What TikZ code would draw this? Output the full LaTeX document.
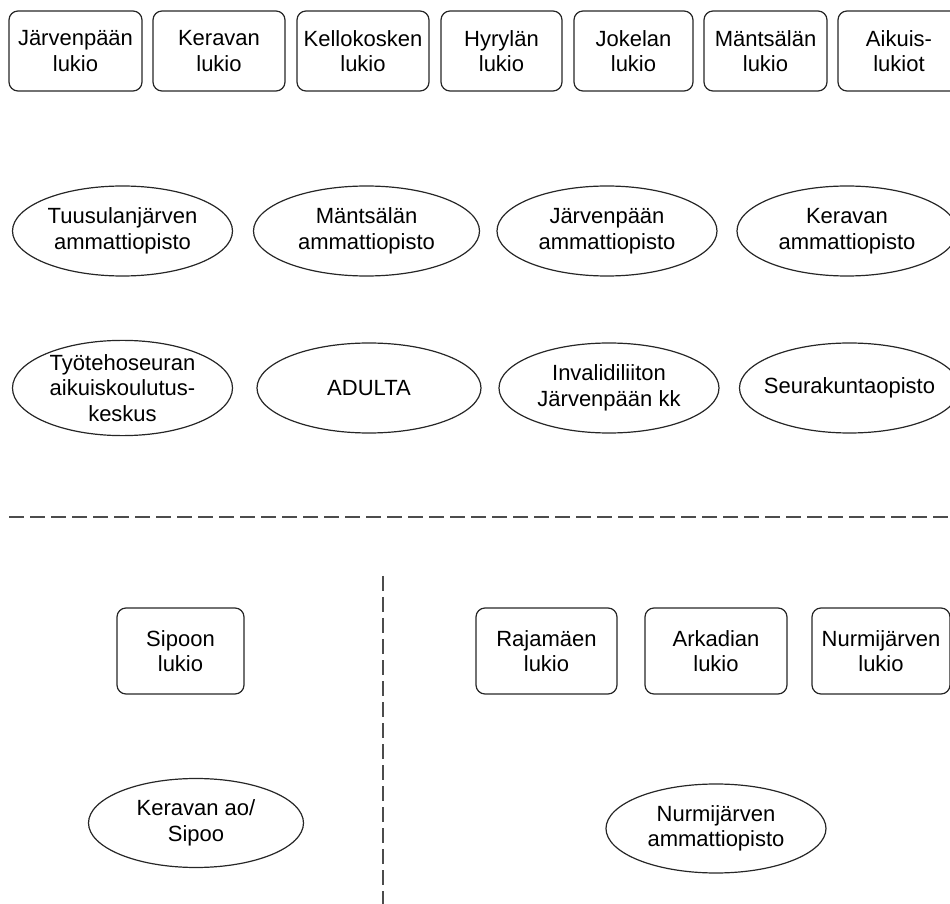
\documentclass[tikz,border=0pt]{standalone}
\usepackage{fontspec}
\setmainfont{Liberation Sans}
\usetikzlibrary{positioning,shapes.geometric}

\begin{document}
\begin{tikzpicture}[x=0.5pt,y=-0.5pt,on grid,node distance=72pt,
    font=\fontsize{11}{12.8}\selectfont,
    lukio/.style={draw=black!85,line width=0.6pt,rounded corners=4.5pt,align=center,minimum width=66pt,minimum height=40pt},
    opisto/.style={draw=black!85,line width=0.6pt,ellipse,align=center,inner sep=0pt,minimum width=110pt,minimum height=45pt},
    raja/.style={draw=black!70,line width=0.65pt,dash pattern=on 7.5pt off 3pt}]
    \useasboundingbox (0,0) rectangle (950,904);
    % lukiot
    \node[lukio,minimum width=66.5pt] (jp_lukio) at (75.5,51) {Järvenpään\\lukio};
    \node[lukio] (ke_lukio)  [right=71.75pt of jp_lukio] {Keravan\\lukio};
    \node[lukio] (kk_lukio)  [right=72pt of ke_lukio]    {Kellokosken\\lukio};
    \node[lukio,minimum width=60.5pt] (hy_lukio) [right=69.25pt of kk_lukio] {Hyrylän\\lukio};
    \node[lukio,minimum width=59.5pt] (jo_lukio) [right=66pt of hy_lukio]    {Jokelan\\lukio};
    \node[lukio,minimum width=61.5pt] (ma_lukio) [right=66pt of jo_lukio]    {Mäntsälän\\lukio};
    \node[lukio,minimum width=61pt]   (aik_lukio) [right=66.75pt of ma_lukio] {Aikuis-\\lukiot};
    % ammattiopistot
    \node[opisto] (tu_ao) at (122.5,231) {Tuusulanjärven\\ammattiopisto};
    \node[opisto,minimum width=113pt] (ma_ao) [right=122pt of tu_ao] {Mäntsälän\\ammattiopisto};
    \node[opisto] (jp_ao) [right=120.25pt of ma_ao] {Järvenpään\\ammattiopisto};
    \node[opisto] (ke_ao) [right=120pt of jp_ao]    {Keravan\\ammattiopisto};
    \node[opisto] (tts)   [below=78.5pt of tu_ao]   {Työtehoseuran\\aikuiskoulutus-\\keskus};
    \node[opisto,minimum width=112pt] (adulta) [right=123.25pt of tts] {ADULTA};
    \node[opisto] (inva)  [right=120pt of adulta]   {Invalidiliiton\\Järvenpään kk};
    \node[opisto,inner xsep=-6pt] (seura) [right=120.25pt of inva]  {Seurakuntaopisto};
    % rajat
    \draw[raja] (9,517) -- (950,517);
    \draw[raja] (383,576) -- (383,904);
    % alaosa
    \node[lukio,minimum width=63.5pt,minimum height=43pt] (si_lukio) at (180.5,651) {Sipoon\\lukio};
    \node[lukio,minimum width=70.5pt,minimum height=43pt] (ra_lukio) [right=183pt of si_lukio] {Rajamäen\\lukio};
    \node[lukio,minimum width=71pt,minimum height=43pt]   (ar_lukio) [right=84.75pt of ra_lukio] {Arkadian\\lukio};
    \node[lukio,minimum width=69pt,minimum height=43pt]   (nu_lukio) [right=82.5pt of ar_lukio]  {Nurmijärven\\lukio};
    \node[opisto,minimum width=107.5pt,minimum height=44.5pt] (ke_si) [below right=86pt and 7.75pt of si_lukio] {Keravan ao/\\Sipoo};
    \node[opisto,minimum height=44.5pt] (nu_ao) [below=88.75pt of ar_lukio] {Nurmijärven\\ammattiopisto};
\end{tikzpicture}
\end{document}
